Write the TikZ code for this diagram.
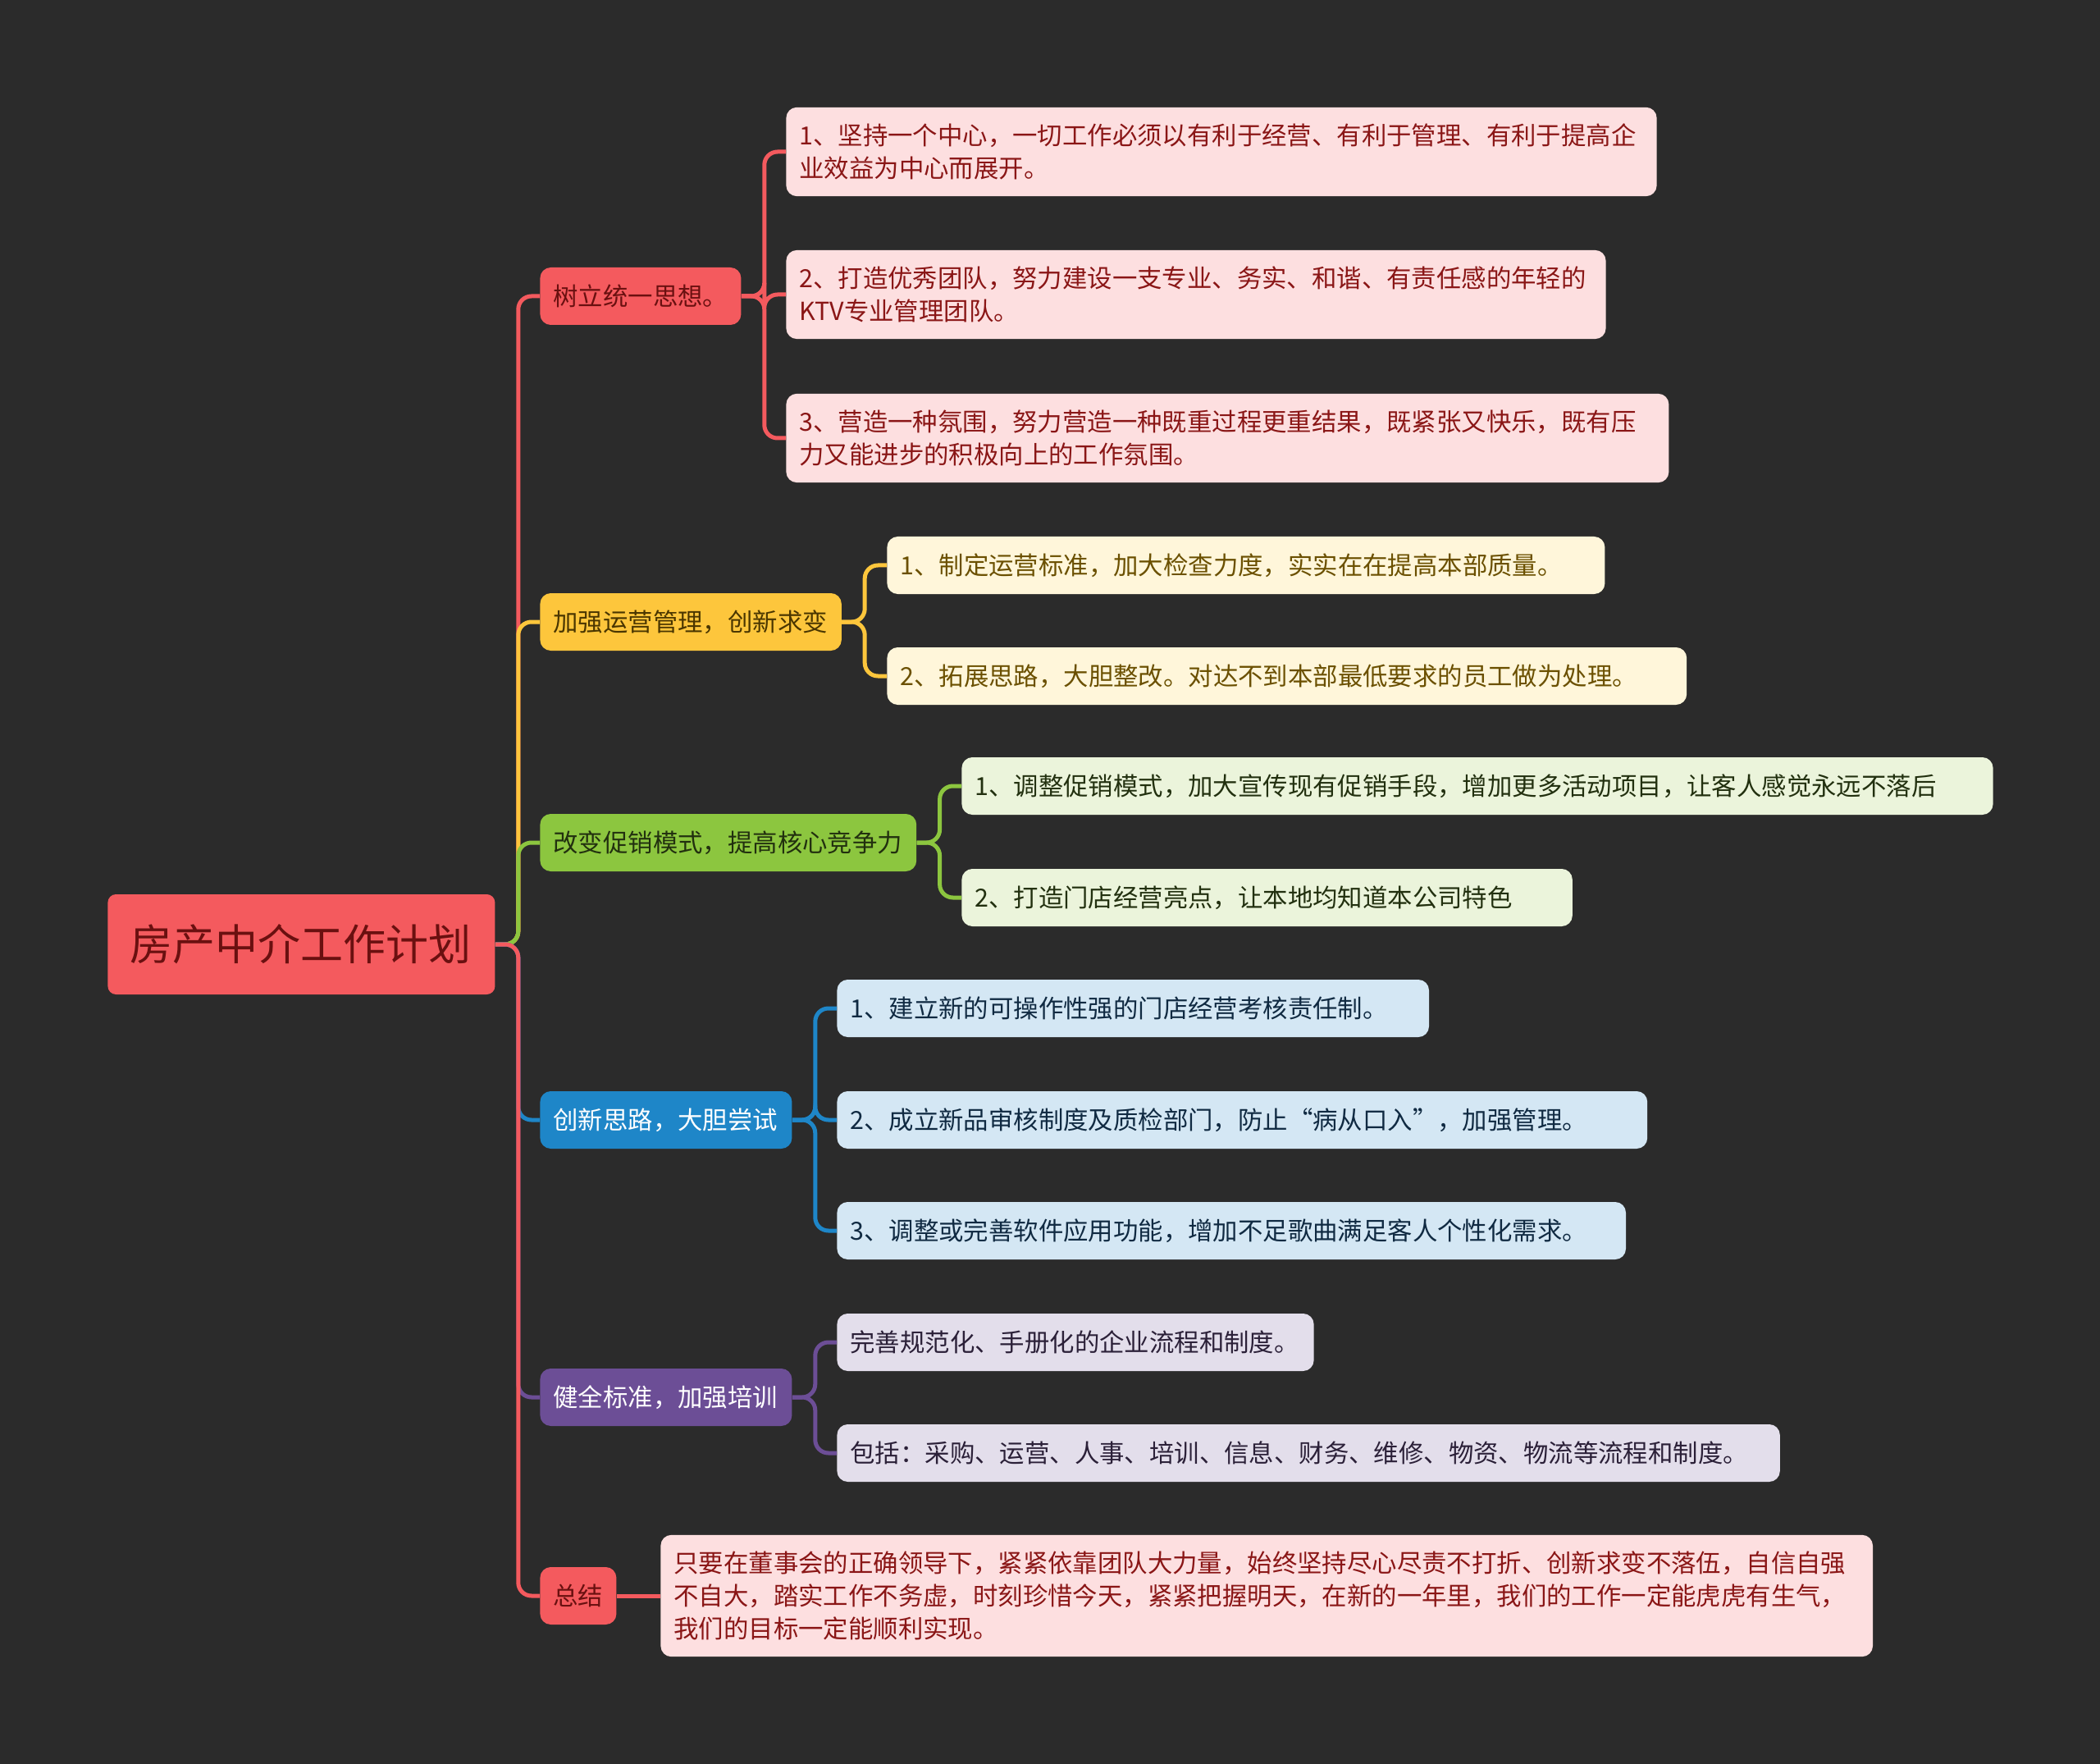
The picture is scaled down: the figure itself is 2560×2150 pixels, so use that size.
\documentclass[tikz,border=0pt]{standalone}
\usepackage{fontspec}
\setmainfont{Noto Sans CJK SC}
\definecolor{bg}{HTML}{2B2B2B}
\definecolor{cred}{HTML}{F45A5E}
\definecolor{cyel}{HTML}{FDC63C}
\definecolor{cgrn}{HTML}{8CC63F}
\definecolor{cblu}{HTML}{1E86C8}
\definecolor{cpur}{HTML}{6C4E96}
\definecolor{fred}{HTML}{FDDFE0}
\definecolor{fyel}{HTML}{FFF6DA}
\definecolor{fgrn}{HTML}{EBF4DB}
\definecolor{fblu}{HTML}{D4E7F4}
\definecolor{fpur}{HTML}{E3DEEB}
\definecolor{tred}{HTML}{8A1616}
\definecolor{tredb}{HTML}{6A1010}
\definecolor{tyel}{HTML}{6B5000}
\definecolor{tyelb}{HTML}{4A3600}
\definecolor{tgrn}{HTML}{22300F}
\definecolor{tblu}{HTML}{102A42}
\definecolor{tpur}{HTML}{2B2038}
\begin{document}
\begin{tikzpicture}[x=0.5pt,y=-0.5pt,
  box/.style={rounded corners=6.5pt, inner xsep=8pt, inner ysep=10pt, minimum height=35pt,
    anchor=west, align=left, font=\fontsize{15.2}{20}\selectfont},
  rootbox/.style={rounded corners=5pt, fill=cred, text=tredb, inner xsep=13.5pt, minimum height=61pt,
    anchor=west, align=left, text width=209pt, font=\fontsize{26}{30}\selectfont},
  bR/.style={box, fill=cred, text=tredb},
  bY/.style={box, fill=cyel, text=tyelb},
  bG/.style={box, fill=cgrn, text=tgrn},
  bB/.style={box, fill=cblu, text=white},
  bP/.style={box, fill=cpur, text=white},
  lR/.style={box, fill=fred, text=tred},
  lY/.style={box, fill=fyel, text=tyel},
  lG/.style={box, fill=fgrn, text=tgrn},
  lB/.style={box, fill=fblu, text=tblu},
  lP/.style={box, fill=fpur, text=tpur},
  conn/.style={line width=2.5pt, rounded corners=8pt},
  kR/.style={conn, draw=cred},
  kY/.style={conn, draw=cyel},
  kG/.style={conn, draw=cgrn},
  kB/.style={conn, draw=cblu},
  kP/.style={conn, draw=cpur}]
\fill[bg] (0,0) rectangle (2560,2150);
\useasboundingbox (0,0) rectangle (2560,2150);

% root
\node[rootbox] (root) at (131,1151) {房产中介工作计划};

% branches
\node[bR, text width=106.5pt] (b1) at (658,361) {树立统一思想。};
\node[bY, text width=167.7pt] (b2) at (658,758) {加强运营管理，创新求变};
\node[bG, text width=213.4pt] (b3) at (658,1027) {改变促销模式，提高核心竞争力};
\node[bB, text width=137.5pt] (b4) at (658,1365) {创新思路，大胆尝试};
\node[bP, text width=137.5pt] (b5) at (658,1703) {健全标准，加强培训};
\node[bR, text width=30.5pt] (b6) at (658,1945) {总结};

% trunk connectors
\draw[kR] (root.east) -- ++(28,0) |- (b1.west);
\draw[kY] (root.east) -- ++(28,0) |- (b2.west);
\draw[kG] (root.east) -- ++(28,0) |- (b3.west);
\draw[kB] (root.east) -- ++(28,0) |- (b4.west);
\draw[kP] (root.east) -- ++(28,0) |- (b5.west);
\draw[kR] (root.east) -- ++(28,0) |- (b6.west);

% branch 1 leaves
\node[lR, text width=514.6pt] (l11) at (958,185) {1、坚持一个中心，一切工作必须以有利于经营、有利于管理、有利于提高企\\业效益为中心而展开。};
\node[lR, text width=483.6pt] (l12) at (958,359) {2、打造优秀团队，努力建设一支专业、务实、和谐、有责任感的年轻的\\KTV专业管理团队。};
\node[lR, text width=522pt] (l13) at (958,534) {3、营造一种氛围，努力营造一种既重过程更重结果，既紧张又快乐，既有压\\力又能进步的积极向上的工作氛围。};
\draw[kR] (b1.east) -- ++(28,0) |- (l11.west);
\draw[kR] (b1.east) -- ++(28,0) |- (l12.west);
\draw[kR] (b1.east) -- ++(28,0) |- (l13.west);

% branch 2 leaves
\node[lY, text width=421.5pt] (l21) at (1081,689) {1、制定运营标准，加大检查力度，实实在在提高本部质量。};
\node[lY, text width=471.4pt] (l22) at (1081,824) {2、拓展思路，大胆整改。对达不到本部最低要求的员工做为处理。};
\draw[kY] (b2.east) -- ++(28,0) |- (l21.west);
\draw[kY] (b2.east) -- ++(28,0) |- (l22.west);

% branch 3 leaves
\node[lG, text width=612.6pt] (l31) at (1172,958) {1、调整促销模式，加大宣传现有促销手段，增加更多活动项目，让客人感觉永远不落后};
\node[lG, text width=356.2pt] (l32) at (1172,1094) {2、打造门店经营亮点，让本地均知道本公司特色};
\draw[kG] (b3.east) -- ++(28,0) |- (l31.west);
\draw[kG] (b3.east) -- ++(28,0) |- (l32.west);

% branch 4 leaves
\node[lB, text width=344.8pt] (l41) at (1020,1229) {1、建立新的可操作性强的门店经营考核责任制。};
\node[lB, text width=477.9pt] (l42) at (1020,1365) {2、成立新品审核制度及质检部门，防止“病从口入”，加强管理。};
\node[lB, text width=464.8pt] (l43) at (1020,1500) {3、调整或完善软件应用功能，增加不足歌曲满足客人个性化需求。};
\draw[kB] (b4.east) -- ++(28,0) |- (l41.west);
\draw[kB] (b4.east) -- ++(28,0) |- (l42.west);
\draw[kB] (b4.east) -- ++(28,0) |- (l43.west);

% branch 5 leaves
\node[lP, text width=274.6pt] (l51) at (1020,1636) {完善规范化、手册化的企业流程和制度。};
\node[lP, text width=558.7pt] (l52) at (1020,1771) {包括：采购、运营、人事、培训、信息、财务、维修、物资、物流等流程和制度。};
\draw[kP] (b5.east) -- ++(28,0) |- (l51.west);
\draw[kP] (b5.east) -- ++(28,0) |- (l52.west);

% branch 6 leaf
\node[lR, text width=722.8pt] (l61) at (805,1945) {只要在董事会的正确领导下，紧紧依靠团队大力量，始终坚持尽心尽责不打折、创新求变不落伍，自信自强\\不自大，踏实工作不务虚，时刻珍惜今天，紧紧把握明天，在新的一年里，我们的工作一定能虎虎有生气，\\我们的目标一定能顺利实现。};
\draw[kR] (b6.east) -- (l61.west);
\end{tikzpicture}
\end{document}
